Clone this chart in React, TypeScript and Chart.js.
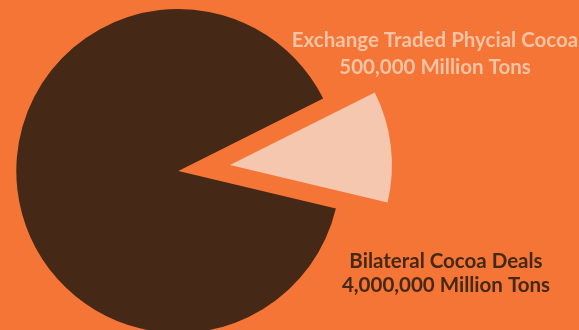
import React, { useEffect, useRef } from "react";
import { Chart, registerables } from "chart.js";

Chart.register(...registerables);

const categories = ["Exchange Traded Phycial Cocoa", "Bilateral Cocoa Deals"];
const values = [500000, 4000000];
const valueLabels = ["500,000 Million Tons", "4,000,000 Million Tons"];

const BG = "#F47535";
const DARK = "#452815";
const LIGHT = "#F5C7AE";
const LIGHT_TEXT = "#F6C3A4";

const PIE_RADIUS = 162;
const EXPLODE_LIST = [208, 0]; // Chart.js translates by offset/4

// Chart.js enlarges an offset arc's radius by (offset/4)*(1-sin(circ)) and trims its angles
// slightly; undo both so the exploded slice keeps the pie's radius and true angle.
const radiusFixPlugin = {
  id: "radiusFix",
  afterDatasetUpdate(chart: any, args: any) {
    const meta = chart.getDatasetMeta(args.index);
    meta.data.forEach((arc: any, i: number) => {
      const off = (EXPLODE_LIST[i] || 0) / 4;
      if (!off) return;
      const circ = arc.endAngle - arc.startAngle;
      const fix = 1 - Math.sin(Math.min(Math.PI, circ));
      const radiusOffset = off * fix;
      const R = arc.outerRadius;
      arc.outerRadius = R - radiusOffset;
      const d = radiusOffset / (2 * Math.PI * R);
      arc.startAngle -= d;
      arc.endAngle += d;
    });
  },
};

const labelPlugin = {
  id: "sliceLabels",
  afterDraw(chart: any) {
    const ctx = chart.ctx;
    ctx.save();
    ctx.textAlign = "center";
    ctx.textBaseline = "alphabetic";
    ctx.font = "700 20.5px Lato";
    ctx.fillStyle = LIGHT_TEXT;
    ctx.fillText(categories[0], 435, 47);
    ctx.fillText(valueLabels[0], 435, 73.5);
    ctx.fillStyle = DARK;
    ctx.fillText(categories[1], 446, 268);
    ctx.fillText(valueLabels[1], 446, 292);
    ctx.restore();
  },
};

export default function App() {
  const ref = useRef<HTMLCanvasElement>(null);
  useEffect(() => {
    const chart = new Chart(ref.current!, {
      type: "pie",
      data: {
        labels: categories,
        datasets: [
          {
            data: values,
            backgroundColor: [LIGHT, DARK],
            borderWidth: 0,
            offset: EXPLODE_LIST,
            radius: PIE_RADIUS,
            rotation: 63.4,
            clip: false,
          } as any,
        ],
      },
      options: {
        animation: false,
        responsive: false,
        rotation: 63.4,
        layout: { padding: { left: 0, right: 222.4, top: 12, bottom: 0 } },
        plugins: {
          legend: { display: false },
          tooltip: { enabled: false },
          title: { display: false },
        },
      } as any,
      plugins: [radiusFixPlugin, labelPlugin],
    });
    return () => chart.destroy();
  }, []);
  return (
    <div style={{ position: "fixed", left: 0, top: 0, width: 579, height: 330, background: BG, overflow: "hidden" }}>
      <canvas ref={ref} width={579} height={330} style={{ display: "block" }} />
    </div>
  );
}
